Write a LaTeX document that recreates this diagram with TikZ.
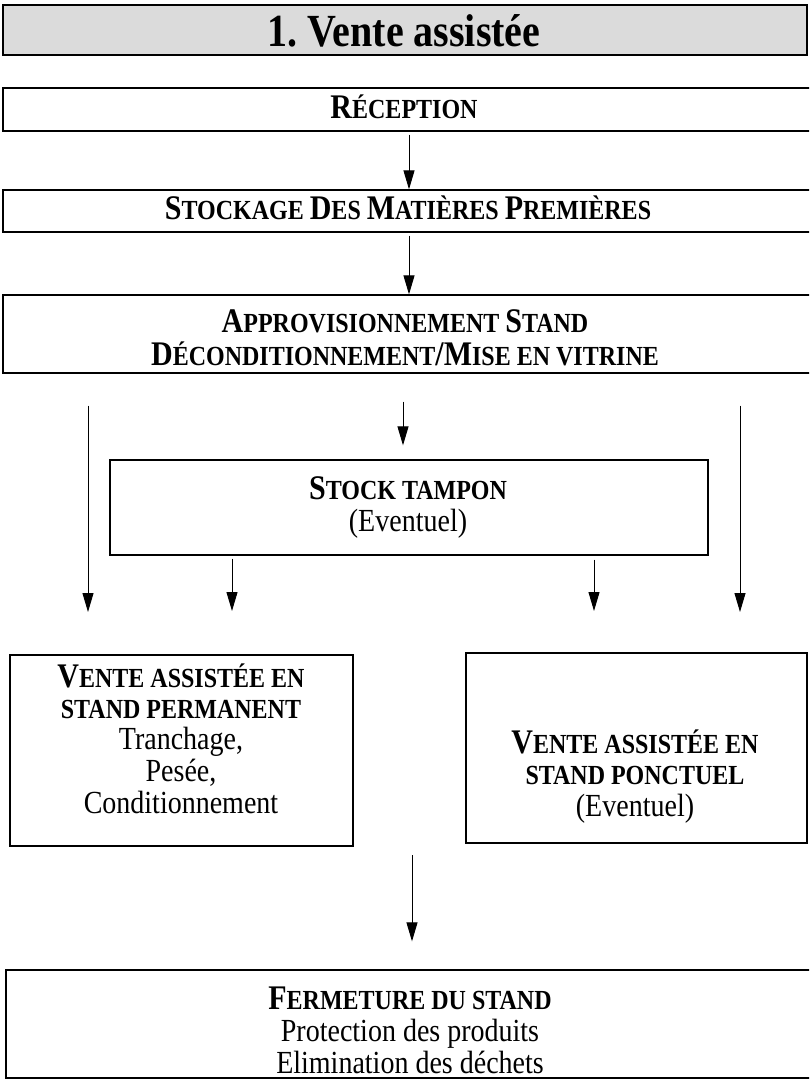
\documentclass[tikz,border=0pt]{standalone}
\usepackage{fontspec}
\usepackage{graphicx}
\setmainfont{Liberation Serif}
\usetikzlibrary{arrows.meta}
\newcommand\bgl[1]{{\fontsize{30}{27}\selectfont #1}}
\newcommand\rgl[1]{{\fontsize{28}{27}\selectfont\mdseries #1}}
\newcommand\tx[1]{\scalebox{1}[1.15]{\fontsize{24}{27}\selectfont\bfseries\begin{tabular}{@{}c@{}}#1\end{tabular}}}
\begin{document}
\begin{tikzpicture}[x=1pt,y=-1pt,
  boxst/.style={draw=black,line width=1.3pt,inner sep=0pt},
  hd/.style={inner sep=0pt},
  arr/.style={line width=1pt,-{Triangle[length=19pt,width=11pt]}}]
\clip (0,0) rectangle (809,1079);
\fill[white] (0,0) rectangle (809,1079);

% title
\node[boxst,fill=black!14,minimum width=804pt,minimum height=50pt] (title) at (405,30) {};
\node[inner sep=0pt] (title-t) at (404,31) {\scalebox{1}[1.15]{\fontsize{40}{44}\selectfont\bfseries 1.\ Vente assistée}};

% boxes
\node[boxst,minimum width=812pt,minimum height=43pt] (rec) at (409,109.5) {};
\node[hd] (rec-t) at (404,111) {\tx{\bgl{R}ÉCEPTION}};

\node[boxst,minimum width=812pt,minimum height=42pt] (stock) at (409,211) {};
\node[hd] (stock-t) at (408,212) {\tx{\bgl{S}TOCKAGE \bgl{D}ES \bgl{M}ATIÈRES \bgl{P}REMIÈRES}};

\node[boxst,minimum width=812pt,minimum height=78pt] (approv) at (409,334) {};
\node[hd] (approv-t) at (405,342) {\tx{\bgl{A}PPROVISIONNEMENT \bgl{S}TAND\\\bgl{D}ÉCONDITIONNEMENT\bgl{/M}ISE EN VITRINE}};

\node[boxst,minimum width=598pt,minimum height=95pt] (tampon) at (409,507.5) {};
\node[hd] (tampon-t) at (408,509) {\tx{\bgl{S}TOCK TAMPON\\\rgl{(Eventuel)}}};

\node[boxst,minimum width=343pt,minimum height=191pt] (perm) at (181.5,750.5) {};
\node[hd] (perm-t) at (181,743) {\tx{\bgl{V}ENTE ASSISTÉE EN\\STAND PERMANENT\\\rgl{Tranchage,}\\\rgl{Pesée,}\\\rgl{Conditionnement}}};

\node[boxst,minimum width=341pt,minimum height=190pt] (ponct) at (636.5,748) {};
\node[hd] (ponct-t) at (635,778) {\tx{\bgl{V}ENTE ASSISTÉE EN\\STAND PONCTUEL\\\rgl{(Eventuel)}}};

\node[boxst,minimum width=809pt,minimum height=108pt] (ferm) at (410.5,1024) {};
\node[hd] (ferm-t) at (410,1035) {\tx{\bgl{F}ERMETURE DU STAND\\\rgl{Protection des produits}\\\rgl{Elimination des déchets}}};

% free ends
\coordinate (lend) at (88,612);
\coordinate (rend) at (740,612);
\coordinate (t1end) at (232,611);
\coordinate (t2end) at (594,611);
\coordinate (bstart) at (412,855);

% connectors
\draw[arr,shorten <=3pt] (rec.south) -- (stock.north);
\draw[arr,shorten <=3pt] (stock.south) -- (approv.north);
\draw[arr,shorten <=28pt,shorten >=14pt] (approv.south -| 403,0) -- (tampon.north -| 403,0);
\draw[arr,shorten <=32pt] (approv.south -| lend) -- (lend);
\draw[arr,shorten <=32pt] (approv.south -| rend) -- (rend);
\draw[arr,shorten <=3pt] (tampon.south -| t1end) -- (t1end);
\draw[arr,shorten <=4pt] (tampon.south -| t2end) -- (t2end);
\draw[arr,shorten >=28pt] (bstart) -- (ferm.north -| bstart);
\end{tikzpicture}
\end{document}
